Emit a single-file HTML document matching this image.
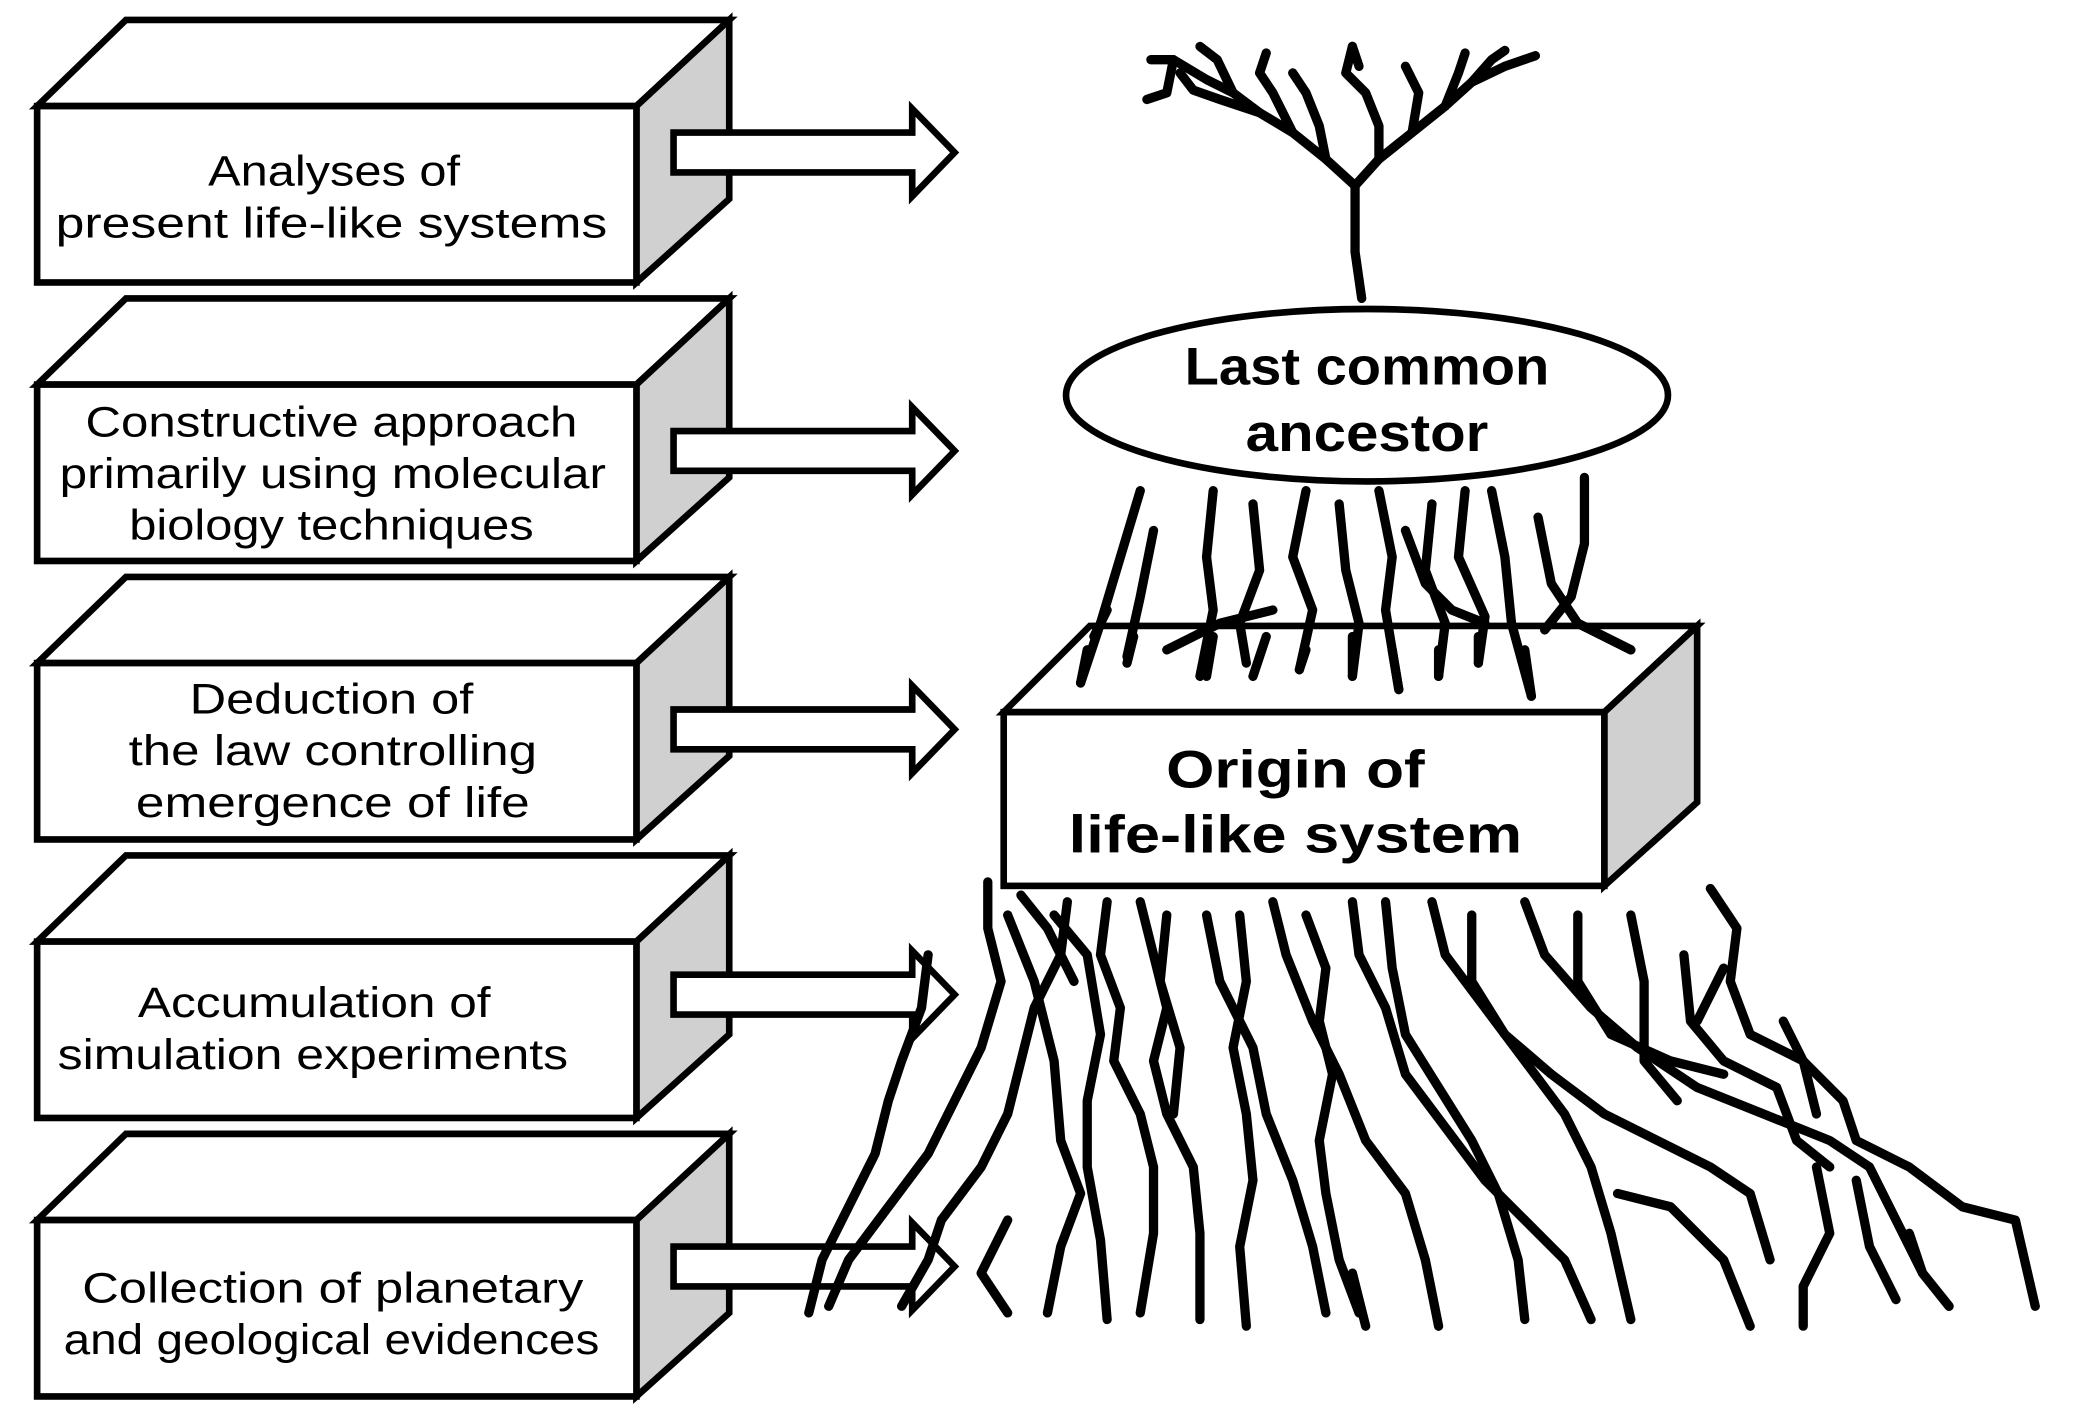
<!DOCTYPE html>
<html><head><meta charset="utf-8"><style>
html,body{margin:0;padding:0;background:#fff;}
svg{display:block;}
text{font-family:"Liberation Sans",sans-serif;fill:#000;}
</style></head><body>
<svg width="2079" height="1419" viewBox="0 0 1568 1070" preserveAspectRatio="none" xmlns="http://www.w3.org/2000/svg">
<defs>
<g id="box">
<polygon points="28,80 95,15 550,15 480,80" fill="#fff" stroke="#000" stroke-width="5" stroke-linejoin="miter"/>
<polygon points="480,80 550,15 550,150 480,213" fill="#d0d0d0" stroke="#000" stroke-width="5"/>
<rect x="28" y="80" width="452" height="133" fill="#fff" stroke="#000" stroke-width="5"/>
</g>
<g id="arr">
<polygon points="508,100 688,100 688,82 720,115 688,148 688,130 508,130" fill="#fff" stroke="#000" stroke-width="5"/>
</g>
</defs>
<use href="#box" y="0"/><use href="#box" y="210"/><use href="#box" y="420"/><use href="#box" y="630"/><use href="#box" y="840"/>
<use href="#arr" y="0"/><use href="#arr" y="225"/><use href="#arr" y="435"/><use href="#arr" y="635"/><use href="#arr" y="840"/>
<g font-size="32" text-anchor="middle" lengthAdjust="spacingAndGlyphs">
<text x="252" y="140" textLength="190" lengthAdjust="spacingAndGlyphs">Analyses of</text><text x="250" y="179" textLength="416" lengthAdjust="spacingAndGlyphs">present life-like systems</text>
<text x="250" y="329" textLength="371" lengthAdjust="spacingAndGlyphs">Constructive approach</text><text x="251" y="368" textLength="412" lengthAdjust="spacingAndGlyphs">primarily using molecular</text><text x="250" y="407" textLength="305" lengthAdjust="spacingAndGlyphs">biology techniques</text>
<text x="250" y="538" textLength="214" lengthAdjust="spacingAndGlyphs">Deduction of</text><text x="251" y="577" textLength="308" lengthAdjust="spacingAndGlyphs">the law controlling</text><text x="251" y="616" textLength="297" lengthAdjust="spacingAndGlyphs">emergence of life</text>
<text x="237" y="767" textLength="266" lengthAdjust="spacingAndGlyphs">Accumulation of</text><text x="236" y="806" textLength="385" lengthAdjust="spacingAndGlyphs">simulation experiments</text>
<text x="251" y="982" textLength="378" lengthAdjust="spacingAndGlyphs">Collection of planetary</text><text x="250" y="1021" textLength="404" lengthAdjust="spacingAndGlyphs">and geological evidences</text>
</g>
<!-- tree -->
<g fill="none" stroke="#000" stroke-width="7" stroke-linecap="round" stroke-linejoin="round">
<path d="M1027,225 L1022,190 L1022,140 L1000,120 L975,100 L950,85 L930,70 L910,60 L885,45 L868,45"/>
<path d="M1022,140 L1040,120 L1065,100 L1090,80 L1110,62 L1135,50 L1158,42"/>
<path d="M975,100 L960,70 L950,55 L955,40"/><path d="M950,85 L920,75 L900,68 L890,55"/>
<path d="M1000,120 L995,95 L985,70 L975,55"/><path d="M1040,120 L1040,95 L1030,70 L1015,55 L1020,35"/>
<path d="M1065,100 L1070,70 L1060,50"/><path d="M1090,80 L1100,55 L1105,40"/><path d="M1110,62 L1125,45 L1135,38"/>
<path d="M930,70 L918,45 L905,35"/><path d="M885,45 L880,70 L865,75"/><path d="M1020,35 L1025,50"/>
<path d="M860,370 L845,420 L830,470 L815,515"/><path d="M870,400 L860,450 L850,495"/>
<path d="M915,370 L910,420 L915,460 L905,510"/><path d="M945,380 L950,430 L935,470 L940,500"/>
<path d="M985,370 L975,420 L990,460 L980,505"/><path d="M1010,380 L1015,430 L1025,470 L1020,510"/>
<path d="M1040,370 L1050,420 L1045,460 L1055,520"/><path d="M1080,380 L1075,430 L1090,470 L1085,510"/>
<path d="M1105,370 L1100,420 L1120,465 L1115,500"/><path d="M1125,370 L1135,420 L1140,470 L1155,525"/>
<path d="M1160,390 L1170,440 L1190,470 L1230,490"/><path d="M1195,360 L1195,410 L1185,450 L1165,475"/>
<path d="M880,490 L920,470 L960,460"/><path d="M1060,400 L1075,440 L1095,460 L1120,470"/>
<path d="M835,460 L825,480"/>
<path d="M745,665 L745,700 L755,740 L740,790 L720,830 L700,870 L670,910 L640,950 L625,985"/>
<path d="M760,690 L780,740 L795,800 L800,860 L815,900 L800,940 L790,990"/>
<path d="M770,675 L790,700 L810,740"/><path d="M795,690 L820,720 L830,780 L820,830 L820,880 L830,935 L835,995"/>
<path d="M805,680 L800,720 L780,760 L770,800 L760,840 L740,880 L710,920 L700,950 L680,985"/>
<path d="M835,680 L830,720 L845,760 L840,800 L860,840 L870,880 L870,930 L860,990"/>
<path d="M860,680 L870,720 L880,760 L870,800 L880,840 L900,880 L905,930 L905,995"/>
<path d="M880,690 L875,740 L890,790 L885,840"/><path d="M910,690 L920,740 L945,790 L955,840 L975,890 L990,940 L1000,990"/>
<path d="M935,690 L940,740 L930,790 L940,840 L945,890 L935,940 L940,1000"/>
<path d="M960,680 L970,720 L990,770 L1010,810 L1030,860 L1060,900 L1075,950 L1085,1000"/>
<path d="M985,690 L1000,730 L995,770 L1005,810 L995,860 L1000,900 L1010,950 L1025,990"/>
<path d="M1020,680 L1025,720 L1045,760 L1060,810 L1090,850 L1120,890 L1150,920 L1180,950 L1200,995"/>
<path d="M1045,680 L1050,730 L1060,780 L1085,820 L1110,860 L1130,900 L1145,950 L1150,995"/>
<path d="M1080,680 L1090,720 L1120,760 L1150,800 L1180,840 L1200,880 L1215,930 L1230,995"/>
<path d="M1110,690 L1110,740 L1135,780 L1170,810 L1210,840 L1250,860 L1290,880 L1320,900 L1335,950"/>
<path d="M1150,680 L1165,720 L1200,760 L1235,790 L1280,820 L1330,840 L1380,860 L1410,880 L1430,920 L1450,960 L1470,985"/>
<path d="M1190,690 L1190,740 L1215,780 L1260,800 L1300,810"/>
<path d="M1230,690 L1240,740 L1240,800 L1265,830"/><path d="M1270,720 L1275,770 L1300,800 L1340,820 L1355,860 L1380,880"/>
<path d="M1290,670 L1310,700 L1305,740 L1320,780 L1360,800 L1390,830 L1400,860 L1440,880 L1480,910 L1520,920 L1535,985"/>
<path d="M1345,770 L1360,800 L1370,840"/><path d="M1440,930 L1450,960 L1470,985"/>
<path d="M700,720 L695,760 L680,800 L670,830 L660,870 L640,910 L620,950 L610,990"/>
<path d="M1220,900 L1260,910 L1300,950 L1320,1000"/><path d="M1370,880 L1380,930 L1360,970 L1360,1000"/>
<path d="M1400,890 L1410,940 L1430,980"/><path d="M1020,960 L1030,1000"/>
<path d="M760,920 L740,960 L760,990"/><path d="M1280,770 L1300,730"/>
</g>
<ellipse cx="1031" cy="298" rx="227" ry="65" fill="#fff" stroke="#000" stroke-width="5"/>
<text x="1031" y="290" font-size="40" font-weight="bold" text-anchor="middle" textLength="275" lengthAdjust="spacingAndGlyphs">Last common</text>
<text x="1031" y="340" font-size="40" font-weight="bold" text-anchor="middle" textLength="183" lengthAdjust="spacingAndGlyphs">ancestor</text>
<g fill="none" stroke="#000" stroke-width="5">
<polygon points="757,537 822,472 1280,472 1210,537"/>
<polygon points="1210,537 1280,472 1280,605 1210,668" fill="#d0d0d0"/>
<rect x="757" y="537" width="453" height="131" fill="#fff"/>
</g>
<g fill="none" stroke="#000" stroke-width="7" stroke-linecap="round">
<path d="M855,480 L850,500"/><path d="M915,480 L910,510"/><path d="M955,480 L945,510"/><path d="M985,490 L980,505"/>
<path d="M1020,480 L1020,510"/><path d="M1050,490 L1055,520"/><path d="M1085,490 L1085,510"/><path d="M1115,480 L1115,500"/><path d="M1150,490 L1155,525"/><path d="M1190,470 L1230,490"/><path d="M820,490 L815,515"/>
</g>
<text x="977" y="594" font-size="40" font-weight="bold" text-anchor="middle" textLength="195" lengthAdjust="spacingAndGlyphs">Origin of</text>
<text x="977" y="643" font-size="40" font-weight="bold" text-anchor="middle" textLength="342" lengthAdjust="spacingAndGlyphs">life-like system</text>
</svg>
</body></html>
